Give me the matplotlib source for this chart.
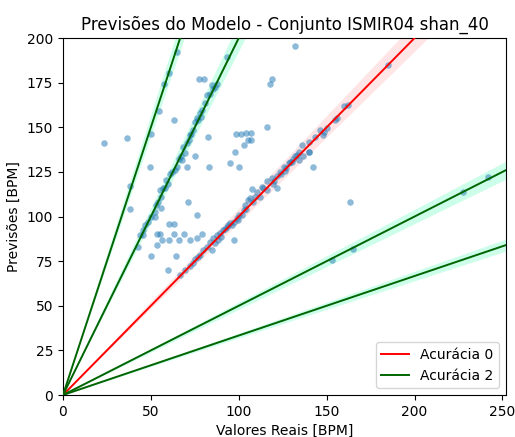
import numpy as np
import matplotlib
matplotlib.use("Agg")
import matplotlib.pyplot as plt

# Tempo estimates (BPM): reference tempo vs. model prediction
real_on_diag = [66.6, 69.5, 72.0, 74.0, 75.2, 77.0, 78.0, 79.9, 81.8, 83.7, 84.7, 85.6,
                87.5, 88.0, 89.4, 90.0, 91.3, 92.0, 93.2, 94.0, 95.1, 96.0, 97.0, 98.9,
                100.0, 101.8, 102.7, 103.6, 104.0, 105.5, 106.5, 108.0, 110.3, 112.0,
                113.2, 114.0, 116.0, 116.0, 118.8, 120.0, 121.7, 123.6, 124.0, 125.5,
                127.0, 128.3, 129.3, 130.2, 132.1, 133.1, 134.0, 134.0, 135.9, 136.3,
                139.7, 139.7, 140.0, 143.5, 146.4, 147.7, 148.2, 150.2, 154.5, 155.9,
                160.0, 162.0, 184.7, 86.5, 99.5, 109.0, 119.5, 126.5, 131.0]
pred_on_diag = [67.2, 70.0, 72.5, 74.0, 76.0, 77.5, 78.4, 81.2, 83.1, 85.9, 81.2, 87.7,
                89.6, 87.0, 90.5, 88.5, 92.4, 93.0, 94.3, 95.0, 96.1, 95.0, 97.1, 99.0,
                101.0, 100.8, 103.6, 106.4, 104.0, 109.2, 110.1, 108.0, 114.0, 111.0,
                116.3, 115.7, 119.7, 115.0, 121.3, 120.0, 122.7, 125.0, 124.0, 128.0,
                127.0, 129.8, 130.7, 130.7, 133.9, 134.5, 131.7, 136.3, 140.1, 133.9,
                142.0, 136.3, 136.0, 144.7, 148.5, 145.6, 147.5, 149.4, 154.0, 155.0,
                162.0, 162.5, 185.0, 85.0, 98.0, 111.0, 118.0, 125.5, 132.0]

real_double = [42.7, 43.7, 45.6, 45.6, 46.5, 48.4, 50.3, 52.2, 52.2, 53.1, 54.1, 55.1,
               56.0, 56.0, 56.9, 57.9, 58.8, 60.8, 62.0, 64.7, 66.0, 67.6, 68.5, 69.5,
               70.4, 71.4, 72.3, 73.0, 74.2, 75.2, 76.1, 77.0, 78.0, 79.0, 80.9, 81.8,
               83.7, 84.7, 85.6, 86.6, 87.5, 93.2, 59.5, 63.5, 67.0, 78.5]
pred_double = [83.1, 89.6, 89.6, 92.4, 95.2, 97.1, 99.9, 99.9, 102.7, 106.4, 108.3, 114.8,
               111.2, 104.5, 115.7, 115.7, 120.4, 124.0, 125.0, 127.9, 132.0, 131.7, 139.1,
               135.4, 141.0, 142.9, 145.7, 146.0, 148.5, 153.1, 155.0, 154.0, 157.8, 159.7,
               163.4, 168.0, 168.9, 173.7, 171.7, 172.7, 174.5, 189.5, 118.0, 126.0,
               134.0, 156.0]

real_triple = [38.3, 49.9, 54.7, 57.5, 60.4, 64.7]
pred_triple = [117.0, 146.0, 159.0, 174.0, 180.6, 192.0]

real_half = [153.0, 164.8, 227.4, 241.6]
pred_half = [75.6, 81.8, 114.0, 122.0]

real_other = [23.5, 36.3, 38.3, 49.4, 63.2, 77.5, 80.3, 75.2, 70.4, 83.3, 71.2, 76.1,
              60.5, 63.4, 82.4, 95.1, 100.2, 98.3, 101.3, 104.2, 107.0, 105.5, 107.0,
              102.7, 98.0, 132.0, 118.0, 119.0, 116.0, 142.2, 163.0, 53.4, 55.2, 63.4,
              69.1, 79.3, 56.2, 60.4, 66.2, 72.3, 76.1, 53.4, 50.1, 64.4, 60.0, 97.0,
              107.4, 122.0]
pred_other = [141.0, 144.0, 104.0, 128.0, 154.0, 177.0, 177.0, 134.0, 128.0, 128.0, 108.0,
              101.0, 96.0, 96.0, 144.7, 130.0, 128.0, 146.0, 146.0, 147.0, 147.0, 143.0,
              143.0, 140.0, 136.0, 195.5, 174.0, 177.0, 150.0, 128.0, 108.0, 90.0, 90.0,
              90.0, 90.0, 90.0, 86.8, 86.8, 86.8, 86.8, 87.8, 84.0, 78.0, 78.0, 70.0, 86.8,
              115.2, 115.7]

real_bpm = np.array(real_on_diag + real_double + real_triple + real_half + real_other)
pred_bpm = np.array(pred_on_diag + pred_double + pred_triple + pred_half + pred_other)

x_max = 252
tolerance = 0.04
acc2_factors = [2, 3, 1 / 2, 1 / 3]

fig = plt.figure(figsize=(5.15, 4.37), dpi=100)
ax = fig.add_axes([0.1223, 0.0961, 0.8602, 0.8169])

ax.scatter(real_bpm, pred_bpm, s=22, color="tab:blue", alpha=0.5, linewidths=0, zorder=3)

xs = np.linspace(0, x_max, 200)
ax.plot(xs, xs, color="red", lw=1.4, label="Acurácia 0", zorder=4)
ax.fill_between(xs, xs * (1 - tolerance), xs * (1 + tolerance), color="red", alpha=0.1,
                lw=0, zorder=2)
for i, f in enumerate(acc2_factors):
    ax.plot(xs, f * xs, color="darkgreen", lw=1.4,
            label="Acurácia 2" if i == 0 else None, zorder=4)
    ax.fill_between(xs, f * xs * (1 - tolerance), f * xs * (1 + tolerance),
                    color="mediumspringgreen", alpha=0.2, lw=0, zorder=2)

ax.set_xlim(0, x_max)
ax.set_ylim(0, 200)
ax.set_xticks([0, 50, 100, 150, 200, 250])
ax.set_yticks([0, 25, 50, 75, 100, 125, 150, 175, 200])
ax.tick_params(labelsize=10)
ax.set_xlabel("Valores Reais [BPM]", fontsize=10)
ax.set_ylabel("Previsões [BPM]", fontsize=10)
ax.set_title("Previsões do Modelo - Conjunto ISMIR04 shan_40", fontsize=12)
ax.legend(loc="lower right", fontsize=10)

fig.savefig("out.png", dpi=100)
